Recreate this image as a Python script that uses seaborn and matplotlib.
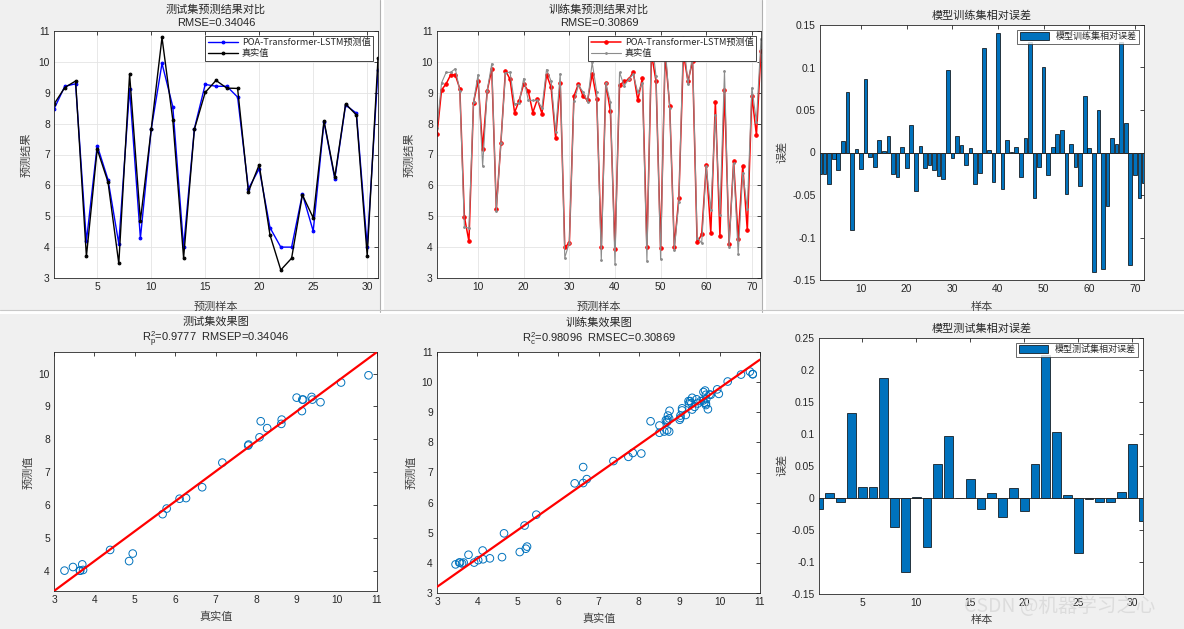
import numpy as np
import matplotlib
matplotlib.use("Agg")
import matplotlib.pyplot as plt
import seaborn as sns
from matplotlib.patches import Rectangle
from matplotlib.lines import Line2D

# ---------------- data ----------------
test_true = [8.63, 9.17, 9.38, 3.70, 7.17, 6.11, 3.47, 9.60, 4.86, 7.81, 10.79, 8.12, 3.65, 7.82, 9.01,
             9.40, 9.15, 9.14, 5.79, 6.67, 4.39, 3.26, 3.64, 5.69, 4.95, 8.09, 6.27, 8.64, 8.28, 3.72, 10.11]
test_pred = [8.47, 9.21, 9.29, 4.19, 7.29, 6.19, 4.11, 9.13, 4.29, 7.81, 9.95, 8.55, 4.00, 7.84, 9.27,
             9.21, 9.21, 8.86, 5.89, 6.54, 4.63, 4.00, 4.00, 5.72, 4.52, 8.06, 6.21, 8.60, 8.34, 4.02, 9.73]
test_err = [-0.017, 0.0073, -0.0063, 0.133, 0.0172, 0.0167, 0.187, -0.0454, -0.116, 0.0016, -0.0767,
            0.0537, 0.0975, -0.0005, 0.030, -0.017, 0.0078, -0.029, 0.016, -0.020, 0.053, 0.223, 0.103,
            0.004, -0.0855, -0.001, -0.006, -0.006, 0.0089, 0.0845, -0.0355]

train_true = [7.85, 9.32, 9.66, 9.66, 9.78, 9.07, 4.66, 4.61, 8.70, 9.59, 6.62, 9.07, 9.94, 5.17, 7.37,
              9.64, 9.67, 8.63, 8.67, 9.46, 8.76, 8.75, 8.75, 8.51, 9.75, 9.38, 7.74, 9.62, 3.66, 4.14,
              8.72, 9.24, 9.03, 8.71, 9.98, 9.03, 3.57, 9.30, 8.70, 3.46, 9.66, 9.23, 9.43, 9.60, 9.01,
              9.32, 3.55, 10.82, 9.53, 3.62, 10.53, 8.51, 3.92, 5.46, 10.82, 9.27, 10.20, 4.31, 4.13,
              6.62, 5.20, 8.29, 5.05, 9.71, 4.02, 6.71, 3.78, 6.41, 5.23, 9.16, 8.06, 10.75]
train_pred = [7.65, 9.09, 9.29, 9.58, 9.58, 9.13, 4.98, 4.19, 8.68, 9.39, 7.18, 9.06, 9.76, 5.24, 7.38,
              9.72, 9.44, 8.36, 8.74, 9.29, 9.05, 8.36, 8.79, 8.32, 9.59, 9.18, 7.52, 9.32, 4.01, 4.12,
              8.89, 9.29, 8.89, 8.75, 9.61, 8.81, 4.01, 9.30, 8.40, 3.95, 9.24, 9.37, 9.43, 9.67, 8.75,
              9.48, 4.01, 10.26, 9.37, 3.98, 10.25, 8.56, 4.01, 5.60, 10.27, 9.37, 10.02, 4.15, 4.41,
              6.65, 4.47, 8.70, 4.36, 9.10, 4.09, 6.78, 4.27, 6.64, 4.54, 8.91, 7.63, 10.35]
train_err = [-0.025, -0.025, -0.037, -0.008, -0.020, 0.014, 0.071, -0.091, 0.004, -0.019, 0.087, -0.005,
             -0.017, 0.015, 0.002, 0.019, -0.025, -0.029, 0.007, -0.018, 0.032, -0.045, 0.008, -0.018,
             -0.015, -0.021, -0.028, -0.031, 0.097, -0.006, 0.019, 0.009, -0.015, 0.005, -0.037, -0.024,
             0.123, 0.003, -0.035, 0.141, -0.043, 0.015, 0.001, 0.007, -0.029, 0.017, 0.130, -0.053,
             -0.017, 0.100, -0.027, 0.006, 0.022, 0.026, -0.049, 0.010, -0.017, -0.039, 0.067, 0.005,
             -0.141, 0.050, -0.137, -0.063, 0.017, 0.010, 0.130, 0.035, -0.132, -0.027, -0.053, -0.036]

test_idx = list(range(1, len(test_true) + 1))
train_idx = list(range(1, len(train_true) + 1))

test_rmse_txt = "RMSE=0.34046"
train_rmse_txt = "RMSE=0.30869"
test_r2_txt = r"$\mathregular{R_p^2}$=0.9777  RMSEP=0.34046"
train_r2_txt = r"$\mathregular{R_c^2}$=0.98096  RMSEC=0.30869"
pred_label = "POA-Transformer-LSTM预测值"
true_label = "真实值"

# ---------------- style ----------------
sns.set_style("white")
plt.rcParams['font.family'] = ['Liberation Sans', 'Noto Sans CJK SC', 'DejaVu Sans']
plt.rcParams['mathtext.fontset'] = 'custom'
plt.rcParams['mathtext.rm'] = 'Liberation Sans'
plt.rcParams['axes.unicode_minus'] = False

W, H = 1184, 629
fig = plt.figure(figsize=(W / 100, H / 100), dpi=100, facecolor='#f0f0f0')
CJK = ['Noto Sans CJK SC', 'Liberation Sans']
MBLUE = '#0072BD'
TXT = '#262626'


def add_ax(x0, y0, x1, y1):
    ax = fig.add_axes([x0 / W, 1 - y1 / H, (x1 - x0) / W, (y1 - y0) / H])
    ax.set_facecolor('white')
    return ax


def style(ax, grid=False):
    ax.tick_params(direction='in', top=True, right=True, length=3, width=0.6,
                   labelsize=7.4, colors=TXT, pad=3)
    for s in ax.spines.values():
        s.set_color(TXT)
        s.set_linewidth(0.6)
        s.set_visible(True)
    if grid:
        ax.grid(True, color='#e4e4e4', linewidth=0.6)
        ax.set_axisbelow(True)
    else:
        ax.grid(False)
    ax.set_xlabel("")
    ax.set_ylabel("")


def ftext(x, y, s, size=8, rot=0, color=TXT, family=None, **kw):
    fig.text(x / W, 1 - y / H, s, ha='center', va='center', fontsize=size, rotation=rot,
             color=color, family=family if family else CJK, **kw)


def line_legend(ax):
    lg = ax.legend(loc='upper right', frameon=True, fancybox=False, borderaxespad=0.5,
                   handlelength=3.3, handletextpad=0.4, borderpad=0.3, labelspacing=0.2,
                   prop={'family': CJK, 'size': 6.6})
    lg.get_frame().set_edgecolor(TXT)
    lg.get_frame().set_linewidth(0.6)
    lg.get_frame().set_alpha(1)


def bar_legend(ax):
    lg = ax.legend(loc='upper right', frameon=True, fancybox=False, borderaxespad=0.5,
                   handlelength=3.2, handleheight=1.0, borderpad=0.3, prop={'family': CJK, 'size': 6.5})
    lg.get_frame().set_edgecolor(TXT)
    lg.get_frame().set_linewidth(0.6)


# window chrome
for (x, y, w, h) in [(381, 0, 3, 313), (763, 0, 3, 313), (0, 311, W, 3)]:
    fig.add_artist(Rectangle((x / W, 1 - (y + h) / H), w / W, h / H, transform=fig.transFigure,
                             facecolor='white', edgecolor='none', zorder=0))
for x in [380, 762]:
    fig.add_artist(Line2D([x / W, x / W], [1 - 312 / H, 1], transform=fig.transFigure,
                          color='#b0b0b0', lw=0.8))
fig.add_artist(Line2D([0, 1], [1 - 310 / H, 1 - 310 / H], transform=fig.transFigure,
                      color='#c8c8c8', lw=0.8))

# ---------------- panel 1: test line ----------------
ax1 = add_ax(54, 31, 378, 278)
sns.lineplot(x=test_idx, y=test_pred, ax=ax1, color='#0000ff', marker='.', markersize=4,
             markeredgecolor='#0000ff', linewidth=1.0, label=pred_label)
sns.lineplot(x=test_idx, y=test_true, ax=ax1, color='black', marker='.', markersize=4,
             markeredgecolor='black', linewidth=1.0, label=true_label)
ax1.set_xlim(1, len(test_idx))
ax1.set_ylim(3, 11)
ax1.set_xticks([5, 10, 15, 20, 25, 30])
ax1.set_yticks(range(3, 12))
style(ax1, grid=True)
line_legend(ax1)
ftext(216, 10, "测试集预测结果对比")
ftext(216, 23, test_rmse_txt, family=['Liberation Sans'])
ftext(216, 307, "预测样本", color='#404040')
ftext(27, 155, "预测结果", rot=90, color='#404040')

# ---------------- panel 2: train line ----------------
ax2 = add_ax(437, 31, 761, 278)
sns.lineplot(x=train_idx, y=train_pred, ax=ax2, color='#ff0000', marker='.', markersize=5,
             markeredgecolor='#ff0000', linewidth=1.1, label=pred_label)
sns.lineplot(x=train_idx, y=train_true, ax=ax2, color='#8c8c8c', marker='.', markersize=2.5,
             markeredgecolor='#8c8c8c', linewidth=0.8, label=true_label)
ax2.set_xlim(1, len(train_idx))
ax2.set_ylim(3, 11)
ax2.set_xticks([10, 20, 30, 40, 50, 60, 70])
ax2.set_yticks(range(3, 12))
style(ax2, grid=True)
line_legend(ax2)
ftext(599, 10, "训练集预测结果对比")
ftext(599, 23, train_rmse_txt, family=['Liberation Sans'])
ftext(599, 307, "预测样本", color='#404040')
ftext(410, 155, "预测结果", rot=90, color='#404040')

# ---------------- panel 3: train relative error ----------------
ax3 = add_ax(820, 25, 1144, 280)
sns.barplot(x=train_idx, y=train_err, ax=ax3, native_scale=True, color=MBLUE, saturation=1,
            edgecolor='black', linewidth=0.5, width=0.8, errorbar=None, label="模型训练集相对误差")
ax3.axhline(0, color=TXT, lw=0.6, zorder=3)
ax3.set_xlim(1, len(train_idx))
ax3.set_ylim(-0.15, 0.15)
ax3.set_xticks([10, 20, 30, 40, 50, 60, 70])
ax3.set_xticklabels([str(v) for v in [10, 20, 30, 40, 50, 60, 70]])
ax3.set_yticks([-0.15, -0.1, -0.05, 0, 0.05, 0.1, 0.15])
ax3.set_yticklabels(['-0.15', '-0.1', '-0.05', '0', '0.05', '0.1', '0.15'])
style(ax3)
bar_legend(ax3)
ftext(982, 16, "模型训练集相对误差")
ftext(982, 307, "样本", color='#404040')
ftext(782, 152, "误差", rot=90, color='#404040')

# ---------------- panel 4: test scatter ----------------
ax4 = add_ax(54, 352, 377, 591)
sns.scatterplot(x=test_true, y=test_pred, ax=ax4, marker='o', s=30, color=MBLUE,
                facecolor='none', edgecolor=MBLUE, linewidth=0.7, zorder=2)
k4, b4 = np.polyfit(test_true, test_pred, 1)
xs4 = np.array([3, 11])
sns.lineplot(x=xs4, y=k4 * xs4 + b4, ax=ax4, color='#ff0000', linewidth=1.6, zorder=3)
ax4.set_xlim(3, 11)
ax4.set_ylim(k4 * 3 + b4, k4 * 11 + b4)
ax4.set_xticks(range(3, 12))
ax4.set_yticks(range(4, 11))
style(ax4)
ftext(216, 322, "测试集效果图")
ftext(216, 339, test_r2_txt, family=['Liberation Sans'])
ftext(216, 617, "真实值", color='#404040')
ftext(29, 472, "预测值", rot=90, color='#404040')

# ---------------- panel 5: train scatter ----------------
ax5 = add_ax(437, 352, 760, 593)
sns.scatterplot(x=train_true, y=train_pred, ax=ax5, marker='o', s=30, color=MBLUE,
                facecolor='none', edgecolor=MBLUE, linewidth=0.7, zorder=2)
k5, b5 = np.polyfit(train_true, train_pred, 1)
xs5 = np.array([3, 11])
sns.lineplot(x=xs5, y=k5 * xs5 + b5, ax=ax5, color='#ff0000', linewidth=1.6, zorder=3)
ax5.set_xlim(3, 11)
ax5.set_ylim(3, 11)
ax5.set_xticks(range(3, 12))
ax5.set_yticks(range(3, 12))
style(ax5)
ftext(599, 322, "训练集效果图")
ftext(599, 339, train_r2_txt, family=['Liberation Sans'])
ftext(599, 619, "真实值", color='#404040')
ftext(412, 472, "预测值", rot=90, color='#404040')

# ---------------- panel 6: test relative error ----------------
ax6 = add_ax(819, 338, 1143, 594)
sns.barplot(x=test_idx, y=test_err, ax=ax6, native_scale=True, color=MBLUE, saturation=1,
            edgecolor='black', linewidth=0.5, width=0.8, errorbar=None, label="模型测试集相对误差")
ax6.axhline(0, color=TXT, lw=0.6, zorder=3)
ax6.set_xlim(1, len(test_idx))
ax6.set_ylim(-0.15, 0.25)
ax6.set_xticks([5, 10, 15, 20, 25, 30])
ax6.set_xticklabels([str(v) for v in [5, 10, 15, 20, 25, 30]])
ax6.set_yticks([-0.15, -0.1, -0.05, 0, 0.05, 0.1, 0.15, 0.2, 0.25])
ax6.set_yticklabels(['-0.15', '-0.1', '-0.05', '0', '0.05', '0.1', '0.15', '0.2', '0.25'])
style(ax6)
bar_legend(ax6)
ftext(982, 329, "模型测试集相对误差")
ftext(982, 620, "样本", color='#404040')
ftext(782, 465, "误差", rot=90, color='#404040')

# watermark (semi-transparent, as in the reference screenshot)
fig.text(1060 / W, 1 - 606 / H, "CSDN @机器学习之心", ha='center', va='center', fontsize=14,
         color='#d8d8d8', alpha=0.8, family=CJK, zorder=0)

fig.savefig("out.png", dpi=100, facecolor=fig.get_facecolor())
